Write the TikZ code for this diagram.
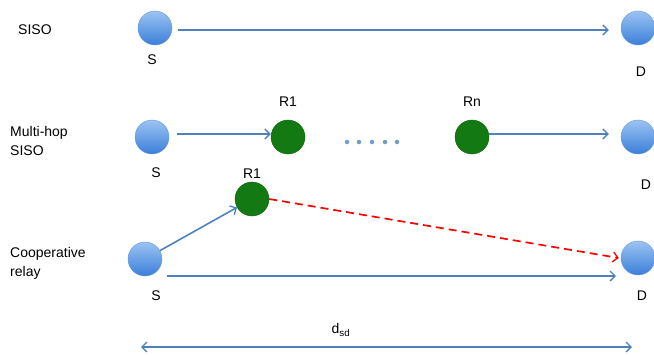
\documentclass[tikz,border=0pt]{standalone}
\usepackage{fontspec}
\setmainfont{Liberation Sans}
\usetikzlibrary{arrows.meta,calc}
\definecolor{lineblue}{HTML}{4F81BD}
\definecolor{balltop}{HTML}{9CC3F2}
\definecolor{ballbot}{HTML}{3B7FD9}
\definecolor{relaygreen}{HTML}{137A13}
\definecolor{relayedge}{HTML}{0E640E}
\tikzset{
  bluenode/.style={circle,minimum size=34pt,inner sep=0pt,top color=balltop,bottom color=ballbot,draw=ballbot!80!white,line width=0.4pt},
  greennode/.style={circle,minimum size=34pt,inner sep=0pt,fill=relaygreen,draw=relayedge,line width=0.4pt},
  lbl/.style={font=\fontsize{14}{16}\selectfont,inner sep=0pt},
  side/.style={font=\fontsize{14}{19}\selectfont,inner sep=0pt,align=left,anchor=west},
  link/.style={draw=lineblue,line width=1.6pt,-{Straight Barb[length=5pt,width=10pt,line width=1.3pt]}},
  dlink/.style={draw=red,line width=1.7pt,dash pattern=on 8pt off 5pt,-{Straight Barb[length=5pt,width=10pt,line width=1.3pt]}},
  dot/.style={circle,fill=lineblue!80,inner sep=0pt,minimum size=4.5pt}
}
\begin{document}
\begin{tikzpicture}[x=1pt,y=-1pt]
\useasboundingbox (0,0) rectangle (654,354);
% side texts
\node[side] (t1) at (18,30) {SISO};
\node[side] (t2) at (10,141) {Multi-hop\\SISO};
\node[side] (t3) at (10,263) {Cooperative\\relay};
% row 1
\node[bluenode] (S1) at (155,28) {};
\node[bluenode] (D1) at (638,28) {};
\node[lbl] (S1l) at (152,60) {S};
\node[lbl] (D1l) at (641,72) {D};
\draw[link] ([xshift=6pt,yshift=-2pt]S1.east) -- ([xshift=-12pt,yshift=-2pt]D1.west);
% row 2
\node[bluenode] (S2) at (152,137) {};
\node[greennode] (R1) at (288,137) {};
\node[greennode] (Rn) at (472,137) {};
\node[bluenode] (D2) at (638,137) {};
\node[lbl] (S2l) at (156,173) {S};
\node[lbl] (R1l) at (288,102) {R1};
\node[lbl] (Rnl) at (472,102) {Rn};
\node[lbl] (D2l) at (646,185) {D};
\foreach \i/\x in {1/347,2/359,3/372,4/385,5/397} \node[dot] (d\i) at (\x,142) {};
\draw[link] ([xshift=8pt,yshift=3pt]S2.east) -- ([yshift=3pt]R1.west);
\draw[link] ([yshift=3pt]Rn.east) -- ([xshift=-12pt,yshift=3pt]D2.west);
% row 3
\node[greennode] (R3) at (252,199) {};
\node[bluenode] (S3) at (145,259) {};
\node[bluenode] (D3) at (638,258) {};
\node[lbl] (R3l) at (252,174) {R1};
\node[lbl] (S3l) at (156,296) {S};
\node[lbl] (D3l) at (642,296) {D};
\draw[link] (S3) -- (R3);
\draw[dlink] (R3.east) -- ([xshift=-2pt]D3.west);
\draw[link] ($(S3.center)+(22,17)$) -- ($(D3.center)+(-22,18)$);
% distance
\coordinate (L) at (141,347);
\coordinate (R) at (632,347);
\draw[draw=lineblue,line width=1.6pt,{Straight Barb[length=5pt,width=10pt,line width=1.3pt]}-{Straight Barb[length=5pt,width=10pt,line width=1.3pt]}] (L) -- (R);
\node[lbl] (dsd) at (341,330) {d\textsubscript{sd}};
\end{tikzpicture}
\end{document}
